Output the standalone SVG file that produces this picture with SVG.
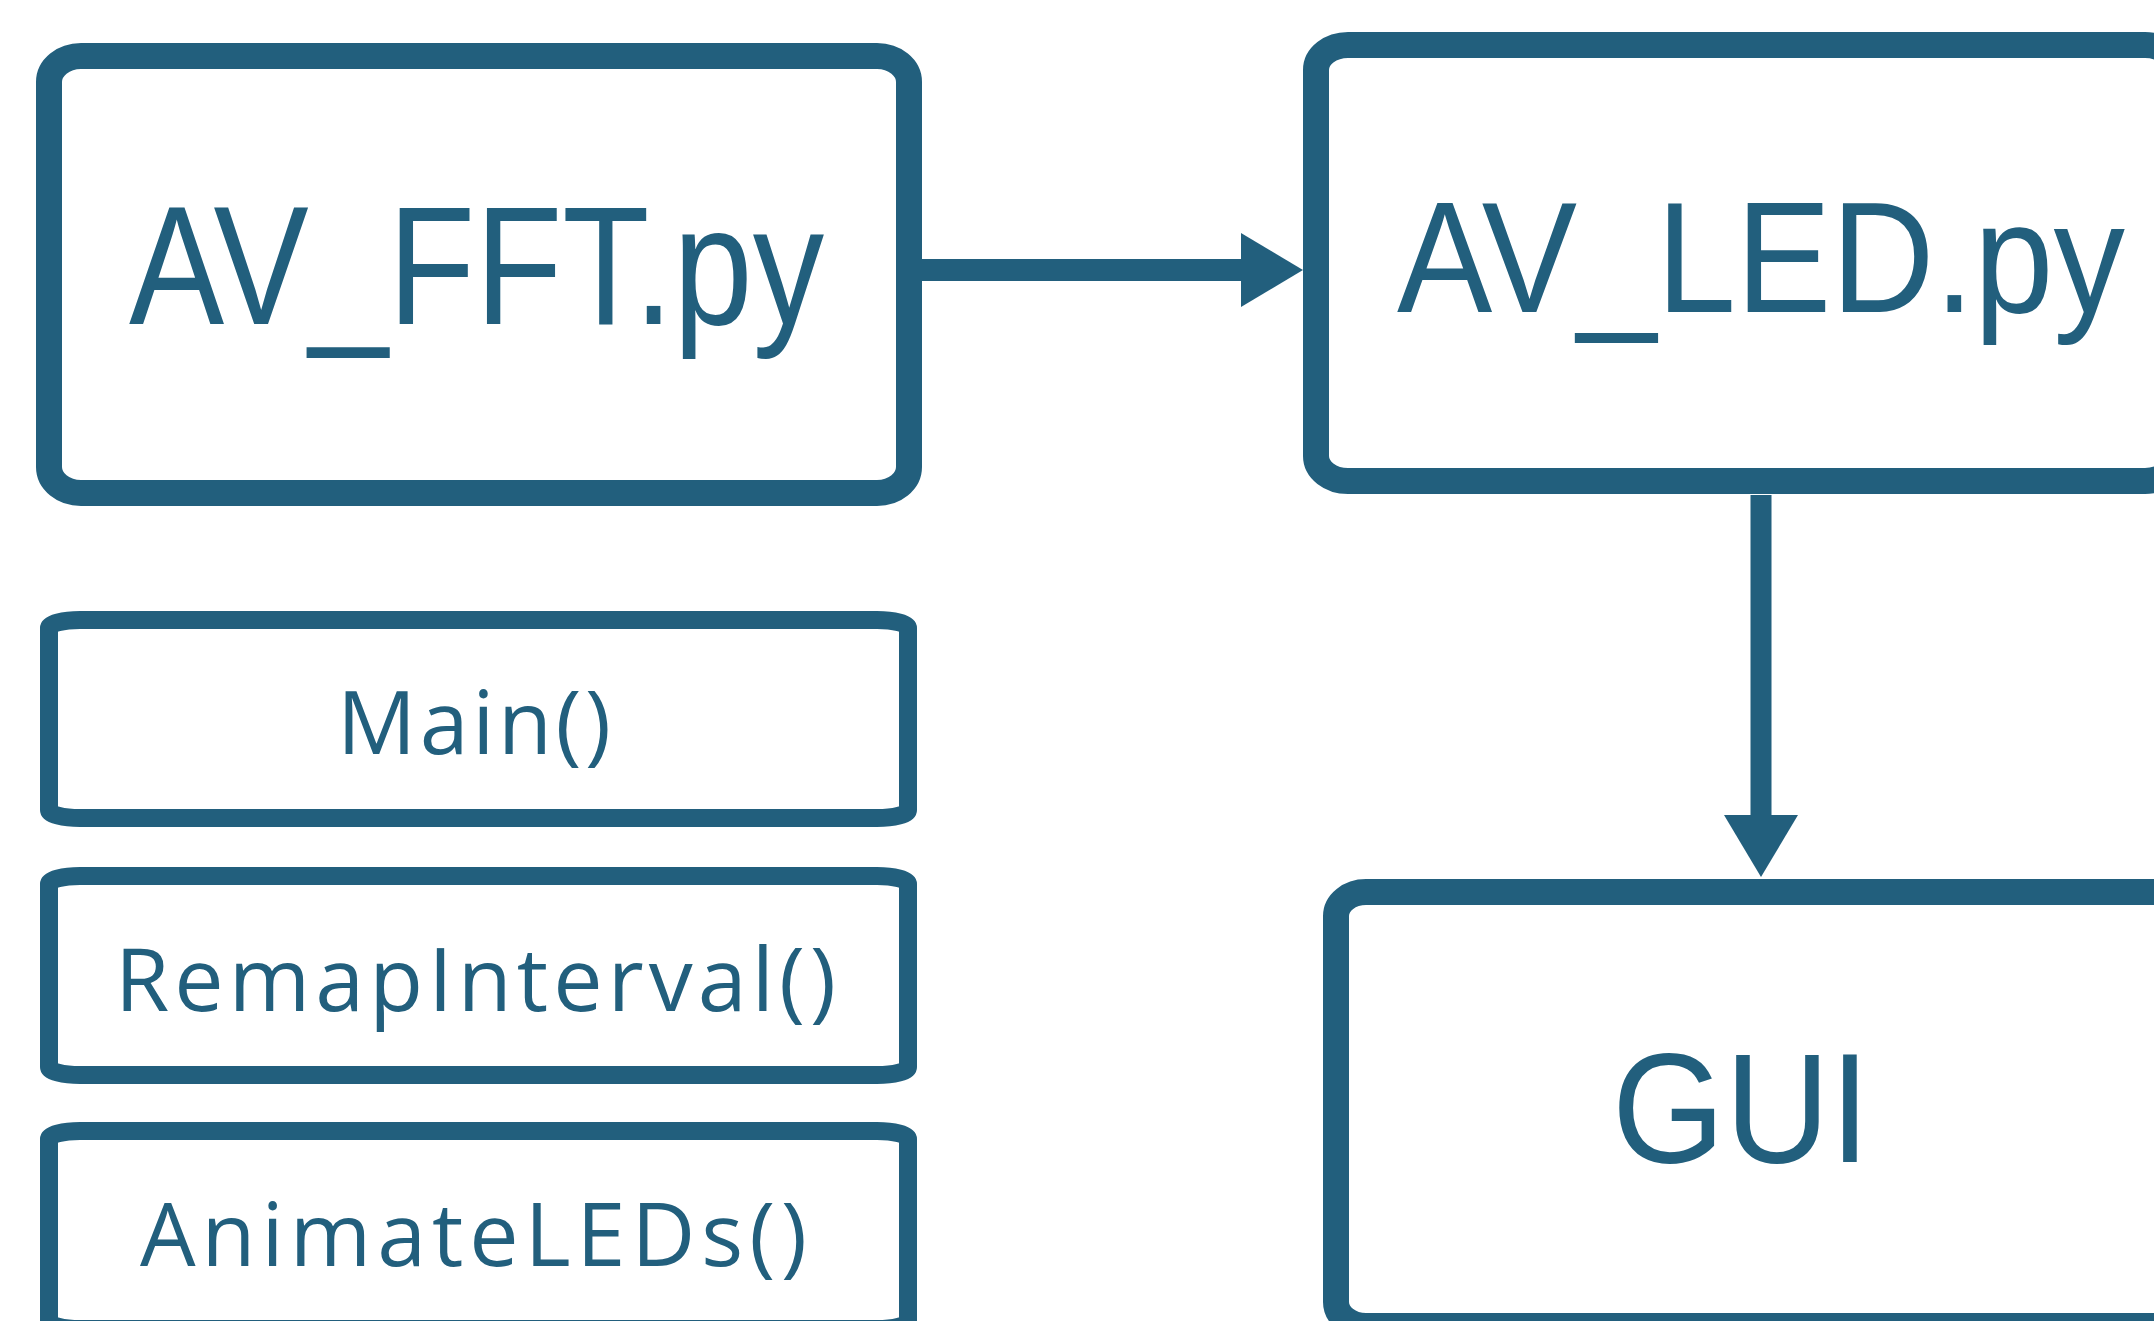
<svg xmlns="http://www.w3.org/2000/svg" width="2154" height="1321" viewBox="0 0 2154 1321">
<style>
.big{fill:#fff;stroke:#225f7d;stroke-width:26}
.small{fill:#fff;stroke:#225f7d;stroke-width:18}
.title{font-family:"Liberation Sans",Arial,sans-serif;fill:#225f7d}
.fn{font-family:"Open Sans","Noto Sans",sans-serif;font-size:88px;fill:#225f7d}
.conn{stroke:#225f7d;fill:none}
</style>
<defs>
<marker id="arrow" markerUnits="userSpaceOnUse" markerWidth="62" markerHeight="74" refX="0" refY="37" orient="auto" viewBox="0 0 62 74">
<path d="M0,0 L62,37 L0,74 Z" fill="#225f7d"/>
</marker>
</defs>
<rect width="2154" height="1321" fill="#fff"/>
<g id="connectors">
<line class="conn" x1="922" y1="270" x2="1241" y2="270" stroke-width="22" marker-end="url(#arrow)"/>
<line class="conn" x1="1761" y1="495" x2="1761" y2="815" stroke-width="21" marker-end="url(#arrow)"/>
</g>
<g id="av_fft">
<rect class="big" x="49" y="56" width="860" height="437" rx="32" ry="26"/>
<text class="title" x="129" y="324" font-size="168" textLength="695" lengthAdjust="spacingAndGlyphs">AV_FFT.py</text>
</g>
<g id="av_led">
<rect class="big" x="1316" y="45" width="861" height="436" rx="32" ry="25"/>
<text class="title" x="1397" y="312" font-size="157" textLength="728" lengthAdjust="spacingAndGlyphs">AV_LED.py</text>
</g>
<g id="gui">
<rect class="big" x="1336" y="892" width="861" height="434" rx="30" ry="24"/>
<text class="title" x="1612" y="1162" font-size="156" textLength="258" lengthAdjust="spacingAndGlyphs">GUI</text>
</g>
<g id="main">
<rect class="small" x="49" y="620" width="859" height="198" rx="31" ry="8"/>
<text class="fn" x="337" y="754" textLength="274" lengthAdjust="spacing">Main()</text>
</g>
<g id="remapinterval">
<rect class="small" x="49" y="876" width="859" height="199" rx="31" ry="8"/>
<text class="fn" x="115" y="1011" textLength="721" lengthAdjust="spacing">RemapInterval()</text>
</g>
<g id="animateleds">
<rect class="small" x="49" y="1131" width="859" height="198" rx="31" ry="8"/>
<text class="fn" x="140" y="1266" textLength="667" lengthAdjust="spacing">AnimateLEDs()</text>
</g>
</svg>
